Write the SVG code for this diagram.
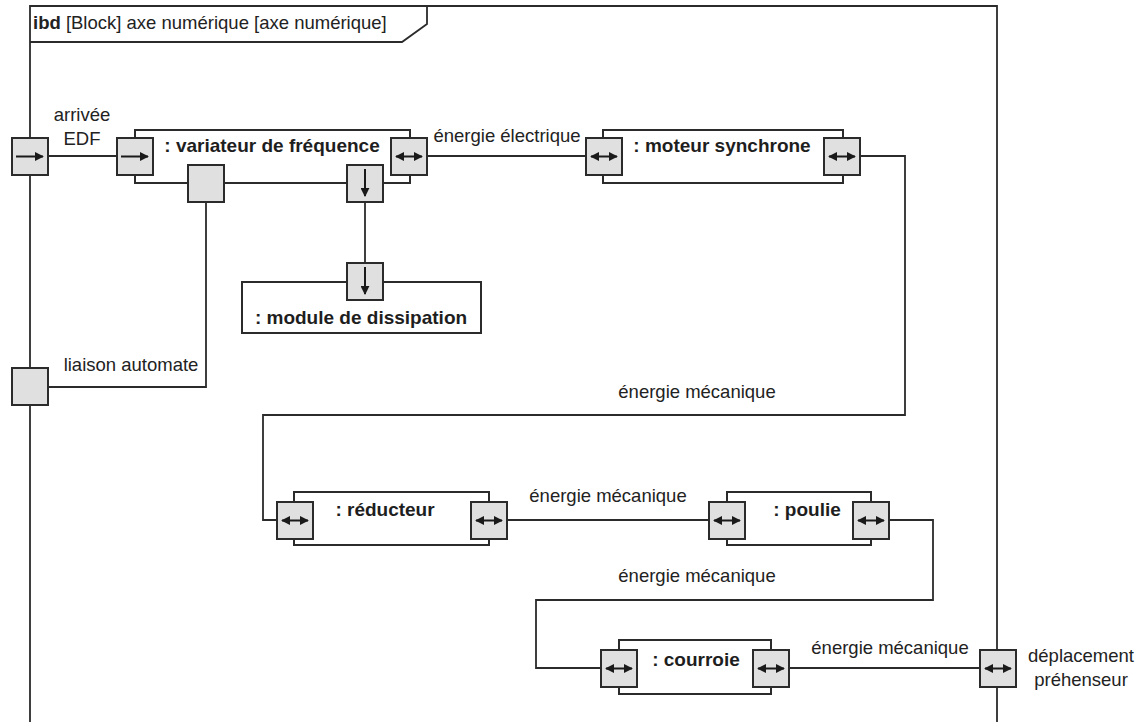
<svg xmlns="http://www.w3.org/2000/svg" width="1142" height="722" viewBox="0 0 1142 722">
  <style>
    .frame { fill: none; stroke: #2b2b2b; stroke-width: 1.8; }
    .block { fill: #ffffff; stroke: #2b2b2b; stroke-width: 2; }
    .port { fill: #e0e0e0; stroke: #2b2b2b; stroke-width: 2; }
    .wire { fill: none; stroke: #2b2b2b; stroke-width: 1.8; }
    .flow { fill: none; stroke: #1a1a1a; stroke-width: 2; }
    .lbl { font-family: "Liberation Sans", Arial, sans-serif; font-size: 18.5px; fill: #222; }
    .name { font-family: "Liberation Sans", Arial, sans-serif; font-size: 19px; font-weight: bold; fill: #1e1e1e; text-anchor: middle; }
    .mid { text-anchor: middle; }
  </style>
  <defs>
    <marker id="head" viewBox="0 0 10 10" refX="9" refY="5" markerWidth="9" markerHeight="9" markerUnits="userSpaceOnUse" orient="auto-start-reverse">
      <path d="M0,0 L10,5 L0,10 Z" fill="#1a1a1a"/>
    </marker>
    <!-- port flow glyphs, drawn at origin of a 36x37 port -->
    <g id="portIn">
      <rect class="port" x="0" y="0" width="36" height="37"/>
      <line class="flow" x1="4" y1="18.5" x2="31" y2="18.5" marker-end="url(#head)"/>
    </g>
    <g id="portIO">
      <rect class="port" x="0" y="0" width="36" height="37"/>
      <line class="flow" x1="5" y1="18.5" x2="31" y2="18.5" marker-start="url(#head)" marker-end="url(#head)"/>
    </g>
    <g id="portDown">
      <rect class="port" x="0" y="0" width="36" height="37"/>
      <line class="flow" x1="18" y1="4" x2="18" y2="31" marker-end="url(#head)"/>
    </g>
    <g id="portPlain">
      <rect class="port" x="0" y="0" width="36" height="37"/>
    </g>
  </defs>

  <rect width="1142" height="722" fill="#ffffff"/>

  <!-- diagram frame with name tab -->
  <g id="frame">
    <path class="frame" d="M30,722 L30,6 L997,6 L997,722"/>
    <path class="frame" d="M30,42 L402,42 L427,24 L427,6"/>
    <text class="lbl" x="33" y="29"><tspan font-weight="bold">ibd</tspan> [Block] axe numérique [axe numérique]</text>
  </g>

  <!-- connectors -->
  <g id="connectors">
    <polyline class="wire" points="47,156 117,156"/>
    <polyline class="wire" points="427,156 586,156"/>
    <polyline class="wire" points="860,156 905,156 905,415 263,415 263,520 282,520"/>
    <polyline class="wire" points="507,520 709,520"/>
    <polyline class="wire" points="889,520 933,520 933,600 536,600 536,668 601,668"/>
    <polyline class="wire" points="789,668 980,668"/>
    <polyline class="wire" points="365,202 365,263"/>
    <polyline class="wire" points="47,387 206,387 206,202"/>
  </g>

  <!-- boundary ports -->
  <g id="port-edf">
    <use href="#portIn" x="12" y="138"/>
    <text class="lbl mid" x="82" y="121">arrivée</text>
    <text class="lbl mid" x="82" y="145">EDF</text>
  </g>
  <g id="port-automate">
    <use href="#portPlain" x="12" y="368"/>
    <text class="lbl mid" x="131" y="371">liaison automate</text>
  </g>
  <g id="port-prehenseur">
    <use href="#portIO" x="980" y="650"/>
    <text class="lbl mid" x="1081" y="662">déplacement</text>
    <text class="lbl mid" x="1081" y="686">préhenseur</text>
  </g>

  <!-- parts -->
  <g id="variateur">
    <rect class="block" x="135" y="130" width="275" height="53"/>
    <text class="name" x="272" y="152" font-size="18.8">: variateur de fréquence</text>
    <use href="#portIn" x="117" y="138"/>
    <use href="#portIO" x="391" y="138"/>
    <use href="#portPlain" x="188" y="165"/>
    <use href="#portDown" x="347" y="165"/>
  </g>

  <g id="moteur">
    <rect class="block" x="603" y="130" width="240" height="53"/>
    <text class="name" x="722" y="152">: moteur synchrone</text>
    <use href="#portIO" x="586" y="138"/>
    <use href="#portIO" x="824" y="138"/>
  </g>

  <g id="module">
    <rect class="block" x="242" y="282" width="239" height="51"/>
    <text class="name" x="361" y="324">: module de dissipation</text>
    <use href="#portDown" x="347" y="263"/>
  </g>

  <g id="reducteur">
    <rect class="block" x="294" y="492" width="195" height="53"/>
    <text class="name" x="385" y="516">: réducteur</text>
    <use href="#portIO" x="277" y="502"/>
    <use href="#portIO" x="471" y="502"/>
  </g>

  <g id="poulie">
    <rect class="block" x="727" y="492" width="144" height="53"/>
    <text class="name" x="807" y="516">: poulie</text>
    <use href="#portIO" x="709" y="502"/>
    <use href="#portIO" x="853" y="502"/>
  </g>

  <g id="courroie">
    <rect class="block" x="619" y="640" width="152" height="54"/>
    <text class="name" x="696" y="666">: courroie</text>
    <use href="#portIO" x="601" y="650"/>
    <use href="#portIO" x="753" y="650"/>
  </g>

  <!-- flow labels -->
  <g id="flow-labels">
    <text class="lbl mid" x="507" y="142">énergie électrique</text>
    <text class="lbl mid" x="697" y="398">énergie mécanique</text>
    <text class="lbl mid" x="608" y="502">énergie mécanique</text>
    <text class="lbl mid" x="697" y="582">énergie mécanique</text>
    <text class="lbl mid" x="890" y="654">énergie mécanique</text>
  </g>
</svg>
